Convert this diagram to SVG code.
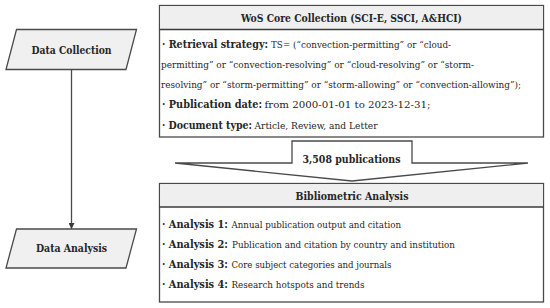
<svg xmlns="http://www.w3.org/2000/svg" width="550" height="308" viewBox="0 0 550 308">
<defs>
<style>
text{font-family:"DejaVu Serif Condensed","DejaVu Serif","Liberation Serif",serif;font-stretch:condensed;fill:#262626;font-size:10px}
.b{font-weight:bold;font-size:10.3px}
.box{fill:#ffffff;stroke:#4a4a4a;stroke-width:1.3}
.hdr{fill:#efefef;stroke:none}
.div{stroke:#3a3a3a;stroke-width:1.6}
.para{fill:#f0f0f0;stroke:#4a4a4a;stroke-width:1.3}
.conn{stroke:#4a4a4a;stroke-width:1.3;fill:none}
</style>
<marker id="ah" viewBox="0 0 10 10" refX="10" refY="5" markerWidth="6" markerHeight="6" markerUnits="userSpaceOnUse" orient="auto">
<path d="M0,0 L10,5 L0,10 Z" fill="#3a3a3a"/>
</marker>
</defs>

<g id="connectors">
<line class="conn" x1="71.5" y1="69.5" x2="71.5" y2="229" marker-end="url(#ah)"/>
</g>

<g id="data-collection">
<polygon class="para" points="16.5,29.5 136.5,29.5 126,69.5 6,69.5"/>
<text class="b" x="71.5" y="53.5" text-anchor="middle" textLength="80" lengthAdjust="spacingAndGlyphs">Data Collection</text>
</g>

<g id="data-analysis">
<polygon class="para" points="16.5,229 136.5,229 126,268 6,268"/>
<text class="b" x="71.5" y="252" text-anchor="middle" textLength="71" lengthAdjust="spacingAndGlyphs">Data Analysis</text>
</g>

<g id="wos">
<rect class="box" x="159.5" y="5.5" width="384" height="131.5"/>
<rect class="hdr" x="160.2" y="6.2" width="382.6" height="23.3"/>
<line class="div" x1="159.5" y1="29.5" x2="543.5" y2="29.5"/>
<text class="b" x="351.5" y="22" text-anchor="middle" textLength="221" lengthAdjust="spacingAndGlyphs">WoS Core Collection (SCI-E, SSCI, A&amp;HCI)</text>
<text class="b" x="162" y="47.5" textLength="106" lengthAdjust="spacingAndGlyphs">· Retrieval strategy:</text>
<text x="271" y="47.5" textLength="180" lengthAdjust="spacingAndGlyphs">TS= (“convection-permitting” or “cloud-</text>
<text x="161" y="67.5" textLength="313" lengthAdjust="spacingAndGlyphs">permitting” or “convection-resolving” or “cloud-resolving” or “storm-</text>
<text x="161" y="87.5" textLength="360" lengthAdjust="spacingAndGlyphs">resolving” or “storm-permitting” or “storm-allowing” or “convection-allowing”);</text>
<text class="b" x="162" y="108" textLength="100" lengthAdjust="spacingAndGlyphs">· Publication date:</text>
<text x="264.5" y="108" textLength="166" lengthAdjust="spacingAndGlyphs">from 2000-01-01 to 2023-12-31;</text>
<text class="b" x="162" y="129" textLength="90" lengthAdjust="spacingAndGlyphs">· Document type:</text>
<text x="254.5" y="129" textLength="123" lengthAdjust="spacingAndGlyphs">Article, Review, and Letter</text>
</g>

<g id="publications-arrow">
<polygon points="175,163 292,163 292,141 412,141 412,163 528,163 352,181" fill="#ffffff" stroke="#4a4a4a" stroke-width="1.3" stroke-linejoin="miter"/>
<text class="b" x="351.5" y="163" text-anchor="middle" textLength="98" lengthAdjust="spacingAndGlyphs">3,508 publications</text>
</g>

<g id="bibliometric">
<rect class="box" x="159.5" y="183.5" width="384" height="118.5"/>
<rect class="hdr" x="160.2" y="184.2" width="382.6" height="22.8"/>
<line class="div" x1="159.5" y1="207" x2="543.5" y2="207"/>
<text class="b" x="352" y="199.5" text-anchor="middle" textLength="113" lengthAdjust="spacingAndGlyphs">Bibliometric Analysis</text>
<text class="b" x="162" y="228" textLength="66" lengthAdjust="spacingAndGlyphs">· Analysis 1:</text>
<text x="231.5" y="228" textLength="169.5" lengthAdjust="spacingAndGlyphs">Annual publication output and citation</text>
<text class="b" x="162" y="248" textLength="66" lengthAdjust="spacingAndGlyphs">· Analysis 2:</text>
<text x="232" y="248" textLength="223" lengthAdjust="spacingAndGlyphs">Publication and citation by country and institution</text>
<text class="b" x="162" y="268" textLength="66" lengthAdjust="spacingAndGlyphs">· Analysis 3:</text>
<text x="231.5" y="268" textLength="160" lengthAdjust="spacingAndGlyphs">Core subject categories and journals</text>
<text class="b" x="162" y="288" textLength="66" lengthAdjust="spacingAndGlyphs">· Analysis 4:</text>
<text x="231.5" y="288" textLength="133" lengthAdjust="spacingAndGlyphs">Research hotspots and trends</text>
</g>
</svg>
